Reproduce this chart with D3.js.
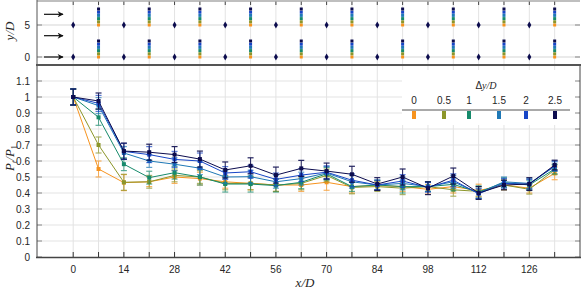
<!DOCTYPE html>
<html><head><meta charset="utf-8">
<script src="https://cdn.jsdelivr.net/npm/d3@7"></script>
<style>
body{margin:0;background:#fff;}
svg{display:block;}
text{font-family:"Liberation Sans",Arial,sans-serif;fill:#262626;}
.math{font-family:"Liberation Serif","DejaVu Serif",serif;font-style:italic;}
</style></head>
<body><svg id="c" width="581" height="290"></svg>
<script>
// ---- data ----
const xPos = [0,7,14,21,28,35,42,49,56,63,70,77,84,91,98,105,112,119,126,133];
const dyLabels = ["0","0.5","1","1.5","2","2.5"];
const dyValues = [0,0.5,1,1.5,2,2.5];
const colors = ["#f7931e","#8c962a","#168a6b","#1e78b6","#1745c6","#0c0c4e"];
const s0  = [1.0,0.55,0.465,0.47,0.50,0.49,0.47,0.46,0.45,0.45,0.467,0.44,0.446,0.44,0.423,0.44,0.415,0.45,0.43,0.523];
const s05 = [1.0,0.70,0.467,0.47,0.51,0.50,0.46,0.46,0.45,0.46,0.51,0.435,0.44,0.43,0.44,0.42,0.41,0.45,0.423,0.545];
const s1  = [1.0,0.873,0.58,0.496,0.527,0.50,0.456,0.456,0.446,0.467,0.52,0.44,0.45,0.44,0.44,0.454,0.405,0.465,0.45,0.55];
const s15 = [1.0,0.946,0.65,0.60,0.58,0.555,0.50,0.502,0.47,0.49,0.525,0.47,0.45,0.46,0.44,0.47,0.40,0.47,0.46,0.565];
const s2  = [1.0,0.96,0.66,0.64,0.61,0.60,0.525,0.533,0.485,0.512,0.53,0.48,0.45,0.475,0.435,0.48,0.395,0.46,0.455,0.57];
const s25 = [1.0,0.975,0.662,0.655,0.64,0.612,0.544,0.57,0.512,0.554,0.537,0.517,0.456,0.50,0.43,0.506,0.40,0.45,0.456,0.575];
const e0  = [0.05,0.05,0.05,0.03,0.04,0.04,0.04,0.04,0.04,0.04,0.05,0.04,0.03,0.03,0.03,0.04,0.04,0.03,0.03,0.04];
const e05 = [0.05,0.05,0.05,0.04,0.04,0.04,0.04,0.04,0.04,0.04,0.04,0.04,0.03,0.04,0.03,0.04,0.03,0.03,0.03,0.03];
const e1  = [0.05,0.05,0.04,0.04,0.04,0.05,0.05,0.05,0.04,0.04,0.04,0.03,0.03,0.04,0.03,0.04,0.04,0.03,0.03,0.03];
const e15 = [0.05,0.05,0.04,0.04,0.04,0.04,0.04,0.04,0.04,0.04,0.04,0.04,0.03,0.04,0.03,0.04,0.03,0.03,0.03,0.03];
const e2  = [0.05,0.05,0.05,0.05,0.05,0.05,0.04,0.04,0.04,0.04,0.04,0.04,0.03,0.04,0.03,0.04,0.03,0.03,0.03,0.03];
const e25 = [0.05,0.05,0.05,0.05,0.05,0.05,0.05,0.05,0.05,0.05,0.05,0.05,0.04,0.05,0.04,0.05,0.04,0.03,0.04,0.03];
const xTickLabels = [0,14,28,42,56,70,84,98,112,126];
const yTicks = [0,0.1,0.2,0.3,0.4,0.5,0.6,0.7,0.8,0.9,1,1.1];
const topYTicks = [0,5];
const arrowY = [0,3.33,6.67];
const probeRowsBase = [0,5];
const singleX = [0,14,28,42,56,70,84,98,112,126];
const stackX = [7,21,35,49,63,77,91,105,119,133];

const series = [s0,s05,s1,s15,s2,s25];
const errs = [e0,e05,e1,e15,e2,e25];

// ---- layout ----
const svg = d3.select("#c");
const L=37, R=580;
const x = d3.scaleLinear().domain([-10,140]).range([L,R]);
const y = d3.scaleLinear().domain([0,1.2]).range([257,65]);
const yt = d3.scaleLinear().domain([-1.25,8.75]).range([65,1]);
const gridC="#e3e3e3";
const gridX = d3.range(0,140,7);

// top panel grid
const gt = svg.append("g");
gt.selectAll("line.v").data(gridX).join("line").attr("class","v")
  .attr("x1",d=>x(d)).attr("x2",d=>x(d)).attr("y1",1).attr("y2",65)
  .attr("stroke",gridC).attr("stroke-width",1);
gt.selectAll("line.h").data(topYTicks).join("line").attr("class","h")
  .attr("x1",L).attr("x2",R).attr("y1",d=>yt(d)).attr("y2",d=>yt(d))
  .attr("stroke",gridC).attr("stroke-width",1.5);
gt.selectAll("line.tt").data(gridX).join("line").attr("class","tt")
  .attr("x1",d=>x(d)).attr("x2",d=>x(d)).attr("y1",1).attr("y2",5)
  .attr("stroke","#444").attr("stroke-width",1);
gt.selectAll("line.yl").data(topYTicks).join("line").attr("class","yl")
  .attr("x1",L).attr("x2",L+5).attr("y1",d=>yt(d)).attr("y2",d=>yt(d)).attr("stroke","#888");
gt.selectAll("line.yr").data(topYTicks).join("line").attr("class","yr")
  .attr("x1",R-5).attr("x2",R).attr("y1",d=>yt(d)).attr("y2",d=>yt(d)).attr("stroke","#888");
gt.selectAll("text.yl").data(topYTicks).join("text").attr("class","yl")
  .attr("x",L-7).attr("y",d=>yt(d)).attr("dy","0.35em").attr("text-anchor","end")
  .attr("font-size",10).text(d=>d);
gt.append("line").attr("x1",L).attr("x2",R).attr("y1",1).attr("y2",1).attr("stroke","#aaa").attr("stroke-width",1.5);
gt.append("line").attr("x1",L).attr("x2",L).attr("y1",0).attr("y2",65).attr("stroke","#555").attr("stroke-width",1);
// arrows
const defs = svg.append("defs");
defs.append("marker").attr("id","ah").attr("viewBox","0 0 10 10").attr("refX",9).attr("refY",5)
  .attr("markerWidth",7).attr("markerHeight",6).attr("orient","auto").attr("markerUnits","userSpaceOnUse")
  .append("path").attr("d","M0,0 L10,5 L0,10 L3,5 z").attr("fill","#111");
gt.selectAll("line.arr").data(arrowY).join("line").attr("class","arr")
  .attr("x1",44).attr("x2",63).attr("y1",d=>yt(d)).attr("y2",d=>yt(d))
  .attr("stroke","#111").attr("stroke-width",1.2).attr("marker-end","url(#ah)");
// probe markers
const singles = [];
singleX.forEach(px=>probeRowsBase.forEach(b=>singles.push([px,b])));
gt.selectAll("path.sg").data(singles).join("path").attr("class","sg")
  .attr("transform",d=>`translate(${x(d[0])},${yt(d[1])})`)
  .attr("d","M0,-3.5 L2,0 L0,3.5 L-2,0 Z").attr("fill","#0c0c4e");
const stacks = [];
stackX.forEach(px=>probeRowsBase.forEach(b=>dyValues.forEach((dv,i)=>stacks.push([px,b+dv,i]))));
gt.selectAll("rect.st").data(stacks).join("rect").attr("class","st")
  .attr("x",d=>x(d[0])-1.5).attr("y",d=>yt(d[1])-1.5).attr("width",3).attr("height",3)
  .attr("fill",d=>colors[d[2]]);

// main grid
const gm = svg.append("g");
gm.selectAll("line.v").data(gridX).join("line").attr("class","v")
  .attr("x1",d=>x(d)).attr("x2",d=>x(d)).attr("y1",65).attr("y2",257)
  .attr("stroke",gridC).attr("stroke-width",1);
gm.selectAll("line.h").data(yTicks.slice(1)).join("line").attr("class","h")
  .attr("x1",L).attr("x2",R).attr("y1",d=>y(d)).attr("y2",d=>y(d))
  .attr("stroke",gridC).attr("stroke-width",1);

// legend background
svg.append("rect").attr("x",402).attr("y",70).attr("width",176).attr("height",55).attr("fill","#fff");

// series
const line = d3.line().x((d,i)=>x(xPos[i])).y(d=>y(d));
series.forEach((s,k)=>{
  const g = svg.append("g");
  const c = colors[k];
  const e = errs[k];
  g.append("path").datum(s).attr("d",line).attr("fill","none").attr("stroke",c).attr("stroke-width",1);
  const eg = g.append("g").attr("opacity",k===5?0.9:0.7);
  eg.selectAll("line.eb").data(s).join("line").attr("class","eb")
    .attr("x1",(d,i)=>x(xPos[i])).attr("x2",(d,i)=>x(xPos[i]))
    .attr("y1",(d,i)=>y(d+e[i])).attr("y2",(d,i)=>y(d-e[i])).attr("stroke",c).attr("stroke-width",1);
  [["capt",1],["capb",-1]].forEach(([cls,sg])=>{
    eg.selectAll("line."+cls).data(s).join("line").attr("class",cls)
      .attr("x1",(d,i)=>x(xPos[i])-3).attr("x2",(d,i)=>x(xPos[i])+3)
      .attr("y1",(d,i)=>y(d+sg*e[i])).attr("y2",(d,i)=>y(d+sg*e[i]))
      .attr("stroke",c).attr("stroke-width",1.2);
  });
  g.selectAll("rect.m").data(s).join("rect").attr("class","m")
    .attr("x",(d,i)=>x(xPos[i])-2).attr("y",d=>y(d)-2).attr("width",4).attr("height",4).attr("fill",c);
});

// main axes
const ax = svg.append("g");
ax.selectAll("line.bt").data(gridX).join("line").attr("class","bt")
  .attr("x1",d=>x(d)).attr("x2",d=>x(d)).attr("y1",257).attr("y2",252).attr("stroke","#333");
ax.selectAll("line.lt").data(yTicks).join("line").attr("class","lt")
  .attr("x1",L).attr("x2",L+5).attr("y1",d=>y(d)).attr("y2",d=>y(d)).attr("stroke","#888");
ax.selectAll("line.rt").data(yTicks).join("line").attr("class","rt")
  .attr("x1",R-5).attr("x2",R).attr("y1",d=>y(d)).attr("y2",d=>y(d)).attr("stroke","#888");
ax.selectAll("text.yl").data(yTicks).join("text").attr("class","yl")
  .attr("x",L-7).attr("y",d=>y(d)).attr("dy","0.35em").attr("text-anchor","end")
  .attr("font-size",10).text(d=>d);
ax.selectAll("text.xl").data(xTickLabels).join("text").attr("class","xl")
  .attr("x",d=>x(d)).attr("y",273).attr("text-anchor","middle").attr("font-size",10).text(d=>d);
ax.append("line").attr("x1",L).attr("x2",L).attr("y1",65).attr("y2",258).attr("stroke","#444").attr("stroke-width",1);
ax.append("line").attr("x1",R).attr("x2",R).attr("y1",65).attr("y2",258).attr("stroke","#444").attr("stroke-width",1);
ax.append("line").attr("x1",L-1).attr("x2",581).attr("y1",257.5).attr("y2",257.5).attr("stroke","#444").attr("stroke-width",1.5);
ax.append("line").attr("x1",L-1).attr("x2",581).attr("y1",65).attr("y2",65).attr("stroke","#555").attr("stroke-width",2);

// axis titles
svg.append("text").attr("class","math").attr("x",305).attr("y",287).attr("text-anchor","middle").attr("font-size",13).text("x/D");
svg.append("text").attr("class","math").attr("transform","translate(14,31) rotate(-90)").attr("text-anchor","middle").attr("font-size",13).text("y/D");
const pl = svg.append("text").attr("class","math").attr("transform","translate(14,158) rotate(-90)").attr("text-anchor","middle").attr("font-size",13);
pl.append("tspan").text("P");
pl.append("tspan").attr("font-size",8).attr("dy",3).text("t");
pl.append("tspan").attr("dy",-3).text("/P");
pl.append("tspan").attr("font-size",8).attr("font-style","normal").attr("dy",3).text("1");

// legend
const lg = svg.append("g");
const lgX = [414,444,469,499,526,555];
const lt = lg.append("text").attr("x",486).attr("y",89).attr("text-anchor","middle").attr("font-size",10);
lt.append("tspan").attr("font-style","normal").text("Δ");
lt.append("tspan").attr("class","math").text("y/D");
lg.selectAll("text.ll").data(dyLabels).join("text").attr("class","ll")
  .attr("x",(d,i)=>lgX[i]).attr("y",104).attr("text-anchor","middle").attr("font-size",10).text(d=>d);
lg.append("line").attr("x1",402).attr("x2",570).attr("y1",110).attr("y2",110).attr("stroke","#555").attr("stroke-width",1);
lg.selectAll("rect.sw").data(colors).join("rect").attr("class","sw")
  .attr("x",(d,i)=>lgX[i]-2).attr("y",111).attr("width",4).attr("height",8).attr("fill",d=>d);
</script></body></html>
